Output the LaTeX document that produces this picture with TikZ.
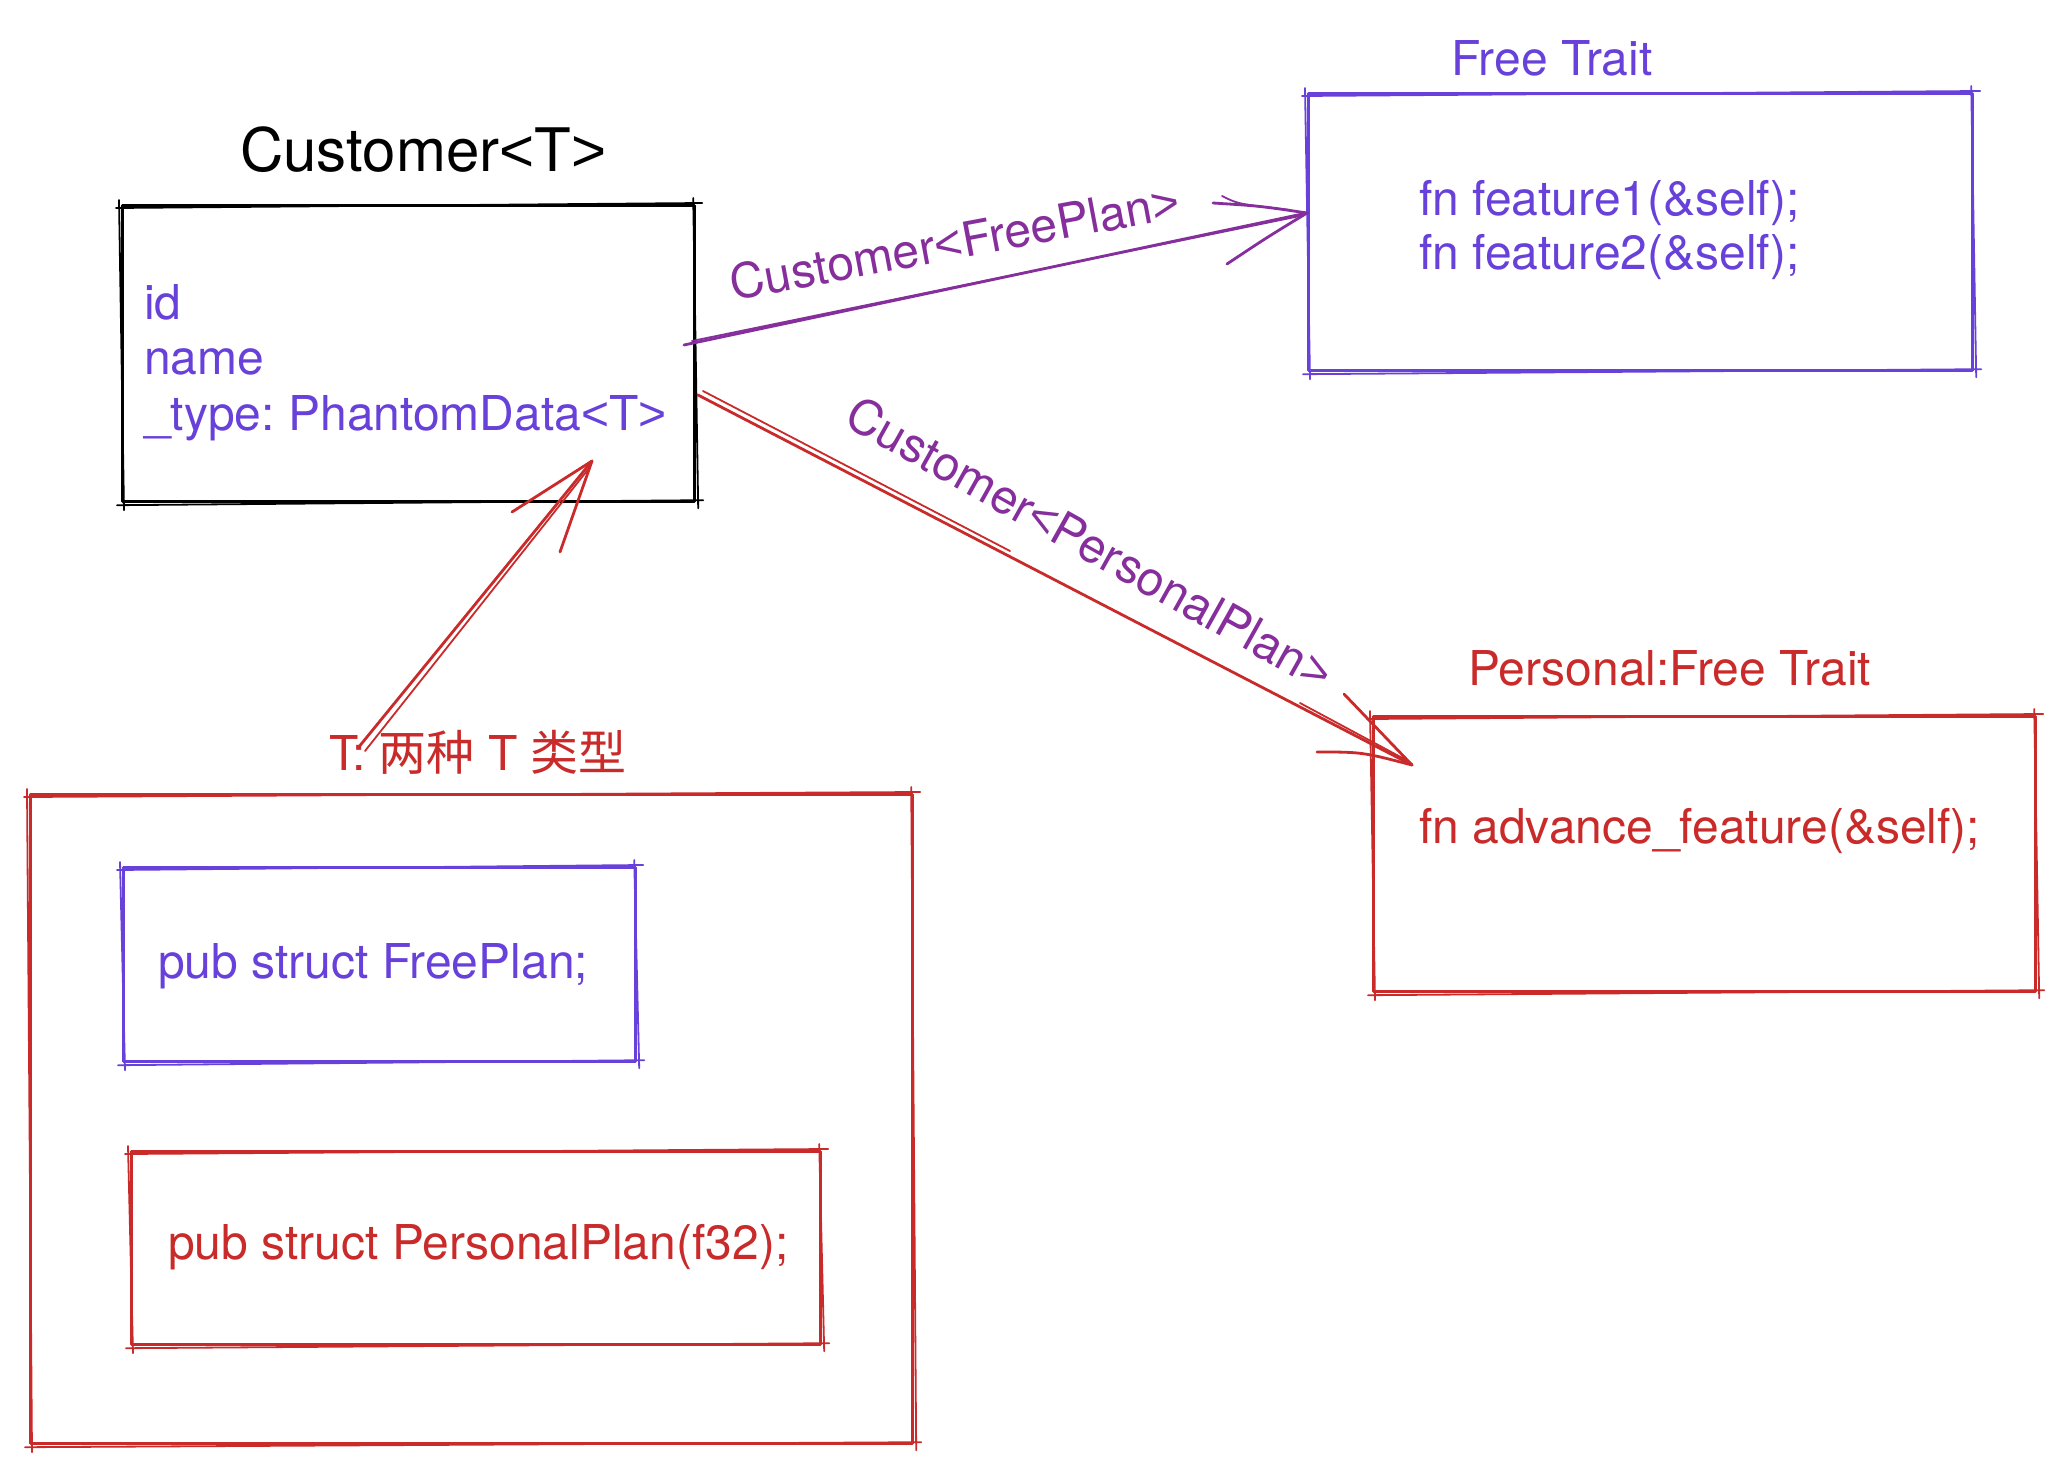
\documentclass[tikz,border=0pt]{standalone}
\usepackage{fontspec}
\setmainfont{TeX Gyre Heros}
\newfontfamily\cjk{Noto Sans CJK SC}
\newfontfamily\libsans{Liberation Sans}
\newcommand\LT{{\libsans <}}
\newcommand\GT{{\libsans >}}
\definecolor{vio}{HTML}{6741D9}
\definecolor{grape}{HTML}{862E9C}
\definecolor{rd}{HTML}{C92A2A}
\frenchspacing
\newcommand\skb[2]{%
  \draw[sk,#2] ([shift={(-5,4)}]#1.north west) -- ([shift={(6,-1)}]#1.north east)
    ([shift={(-3,-6)}]#1.north east) -- ([shift={(2,5)}]#1.south east)
    ([shift={(7,-3)}]#1.south east) -- ([shift={(-4,2)}]#1.south west)
    ([shift={(3,7)}]#1.south west) -- ([shift={(-2,-4)}]#1.north west);}
\begin{document}
\begin{tikzpicture}[x=1pt,y=-1pt,
  txt/.style={inner sep=0pt, anchor=base west, font=\fontsize{48}{55}\selectfont},
  box/.style={draw, line width=3.2pt, inner sep=0pt, line join=round, anchor=north west},
  sk/.style={line width=1.8pt, line cap=round},
  shaft/.style={line width=2.8pt, line cap=round, line join=round}]
\useasboundingbox[fill=white] (0,0) rectangle (2064,1472);

% boxes
\node[box, draw=black, minimum width=572pt, minimum height=296pt] (cust) at (121,204) {};
\node[box, draw=vio, minimum width=664pt, minimum height=277pt] (ftrait) at (1307,92) {};
\node[box, draw=rd, minimum width=662pt, minimum height=275pt] (ptrait) at (1372,715) {};
\node[box, draw=rd, minimum width=882pt, minimum height=649pt] (tbox) at (29,793) {};
\node[box, draw=vio, minimum width=512pt, minimum height=194pt] (fplan) at (122,866) {};
\node[box, draw=rd, minimum width=689pt, minimum height=193pt] (pplan) at (130,1150) {};
\skb{cust}{black}
\skb{ftrait}{vio}
\skb{ptrait}{rd}
\skb{tbox}{rd}
\skb{fplan}{vio}
\skb{pplan}{rd}

% texts
\node[txt, font=\fontsize{60}{70}\selectfont] (custlbl) at (240,171) {Customer\LT T\GT};
\node[txt, vio] (fid) at (144,319) {id};
\node[txt, vio] (fname) at (144,374) {name};
\node[txt, vio] (ftype) at (144,430) {\_type: PhantomData\LT T\GT};
\node[txt, vio] (ftlbl) at (1451,76) {Free Trait};
\node[txt, vio] (f1) at (1419,215) {fn feature1(\&self);};
\node[txt, vio] (f2) at (1419,269) {fn feature2(\&self);};
\node[txt, rd] (ptlbl) at (1468,685) {Personal:Free Trait};
\node[txt, rd] (adv) at (1419,843) {fn advance\_feature(\&self);};
\node[txt, rd] (tlbl) at (329,770) {T: {\cjk 两种} T {\cjk 类型}};
\node[txt, vio] (fptxt) at (158,978) {pub struct FreePlan;};
\node[txt, rd] (pptxt) at (168,1259) {pub struct PersonalPlan(f32);};

% arrow 1: Customer -> Free Trait
\coordinate (a1s) at (684,345);
\coordinate (a1t) at (1307,213);
\draw[shaft, grape] (a1s) -- (a1t);
\draw[sk, grape] (692,341) -- (1300,216);
\draw[shaft, grape] (1213,203) .. controls (1260,206) .. (a1t);
\draw[sk, grape] (1222,196) .. controls (1238,204) .. (1290,210);
\draw[shaft, grape] (1227,264) .. controls (1266,238) .. (a1t);
\node[inner sep=0pt, anchor=base, grape, rotate=10.6, font=\fontsize{48}{55}\selectfont] (lbl1) at (958,259) {Customer\LT FreePlan\GT};

% arrow 2: Customer -> Personal
\coordinate (a2s) at (698,395);
\coordinate (a2t) at (1412,765);
\draw[shaft, rd] (a2s) -- (a2t);
\draw[sk, rd] (703,391) -- (1010,551);
\draw[sk, rd] (1300,703) -- (1408,761);
\draw[shaft, rd] (1317,752) .. controls (1362,752) .. (a2t);
\draw[shaft, rd] (1344,694) -- (a2t);
\node[inner sep=0pt, anchor=center, grape, rotate=-29.2, font=\fontsize{48}{55}\selectfont] (lbl2) at (1090,543) {Customer\LT PersonalPlan\GT};

% arrow 3: T label -> Customer
\coordinate (a3s) at (358,748);
\coordinate (a3t) at (592,461);
\draw[shaft, rd] (a3s) -- (a3t);
\draw[sk, rd] (365,751) -- (590,467);
\draw[shaft, rd] (512,512) -- (a3t);
\draw[shaft, rd] (560,552) -- (a3t);
\end{tikzpicture}
\end{document}
